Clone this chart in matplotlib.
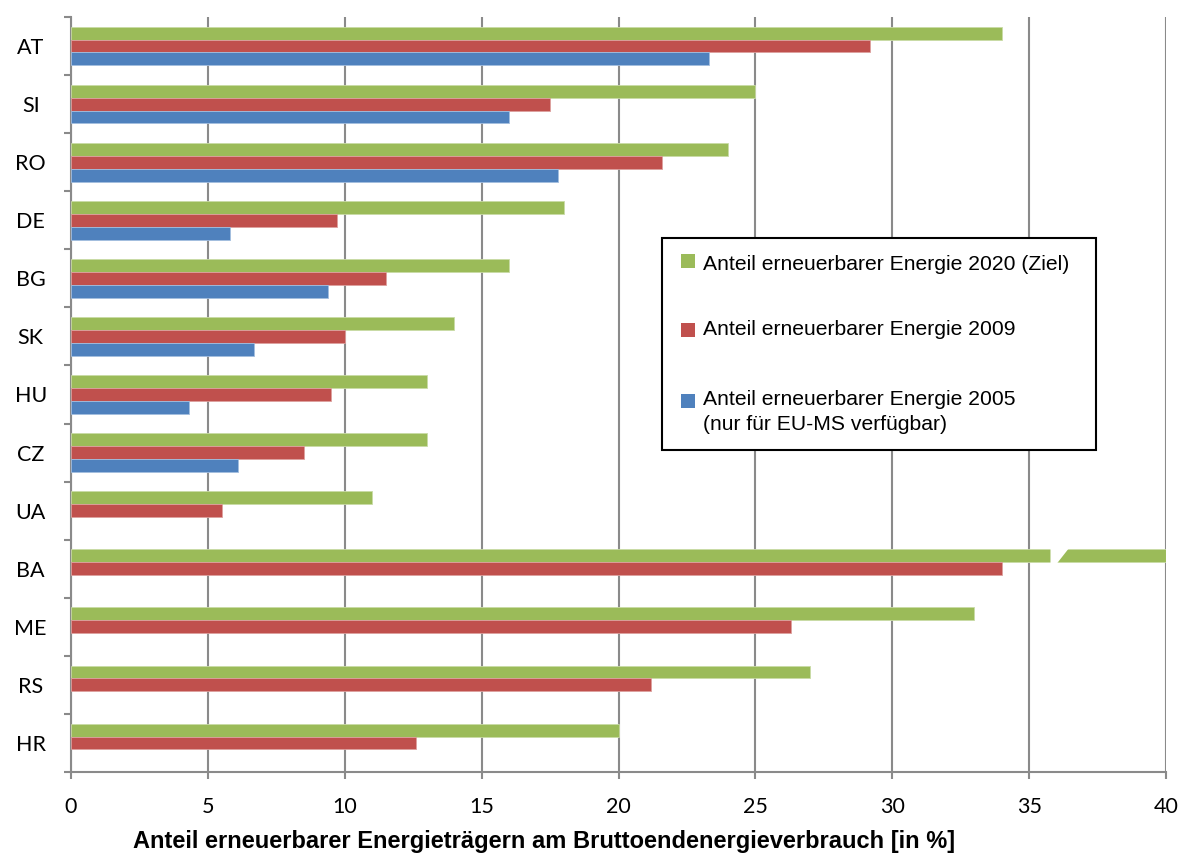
import numpy as np
import matplotlib.pyplot as plt
from matplotlib.patches import Rectangle, Polygon

# Anteil erneuerbarer Energie je Land (in %)
countries = ['AT', 'SI', 'RO', 'DE', 'BG', 'SK', 'HU', 'CZ', 'UA', 'BA', 'ME', 'RS', 'HR']
ziel_2020 = [34.0, 25.0, 24.0, 18.0, 16.0, 14.0, 13.0, 13.0, 11.0, 40.0, 33.0, 27.0, 20.0]
anteil_2009 = [29.2, 17.5, 21.6, 9.7, 11.5, 10.0, 9.5, 8.5, 5.5, 34.0, 26.3, 21.2, 12.6]
anteil_2005 = [23.3, 16.0, 17.8, 5.8, 9.4, 6.7, 4.3, 6.1, np.nan, np.nan, np.nan, np.nan, np.nan]

labels = [['Anteil erneuerbarer Energie 2020 (Ziel)'],
          ['Anteil erneuerbarer Energie 2009'],
          ['Anteil erneuerbarer Energie 2005', '(nur für EU-MS verfügbar)']]
colors = ['#9BBB59', '#C0504D', '#4F81BD']
edges = ['#C9DBA6', '#DDA09E', '#A3BEDF']

W, H = 1183, 857
fig = plt.figure(figsize=(W / 100, H / 100), dpi=100)
ax = fig.add_axes([71 / W, 1 - 772 / H, (1166 - 71) / W, (772 - 17) / H])

y = np.arange(len(countries))
h = 0.222
series = [ziel_2020, anteil_2009, anteil_2005]
for k, vals in enumerate(series):
    ax.barh(y + (k - 1) * h, vals, height=h, color=colors[k],
            edgecolor=edges[k], linewidth=0.6, zorder=3)

# axis break on the BA target bar
ba = countries.index('BA')
yt = ba - 1.5 * h - 0.03
yb = ba - 0.5 * h + 0.03
brk = Polygon([(35.78, yt), (36.47, yt), (36.0, yb), (35.78, yb)],
              closed=True, facecolor='white', edgecolor='none', zorder=4)
ax.add_patch(brk)

ax.set_xlim(0, 40)
ax.set_ylim(len(countries) - 0.5, -0.5)
ax.set_xticks(np.arange(0, 41, 5))
ax.set_yticks(y)
ax.set_yticklabels(countries)
ax.set_yticks(np.arange(-0.5, len(countries), 1), minor=True)

grid_c = '#8a8a8a'
ax.grid(axis='x', color=grid_c, linewidth=1.5, zorder=0)
for s in ['top', 'right']:
    ax.spines[s].set_visible(False)
for s in ['left', 'bottom']:
    ax.spines[s].set_color(grid_c)
    ax.spines[s].set_linewidth(1.5)

ax.tick_params(axis='y', which='major', length=0, pad=29)
ax.tick_params(axis='y', which='minor', length=5, width=1.5, color=grid_c)
ax.tick_params(axis='x', length=5, width=1.5, color=grid_c, pad=13)
for t in ax.get_yticklabels():
    t.set_horizontalalignment('center')
for t in ax.get_yticklabels() + ax.get_xticklabels():
    t.set_fontfamily('Lato')
    t.set_fontsize(15.5)
    t.set_color('#000000')

fig.text(544 / W, 1 - 848 / H,
         'Anteil erneuerbarer Energieträgern am Bruttoendenergieverbrauch [in %]',
         family='Liberation Sans', weight='bold', fontsize=17,
         ha='center', va='baseline')

# legend box
px = lambda x0, y0: (x0 / W, 1 - y0 / H)
box = Rectangle(px(662, 450), (1096 - 662) / W, (450 - 238) / H,
                transform=fig.transFigure, facecolor='white',
                edgecolor='black', linewidth=1.5, zorder=5)
fig.patches.append(box)
marker_top = [254, 323, 394]
baselines = [[270], [335], [405, 430]]
for k in range(3):
    sq = Rectangle(px(681, marker_top[k] + 14), 14 / W, 14 / H,
                   transform=fig.transFigure, facecolor=colors[k],
                   edgecolor='none', zorder=6)
    fig.patches.append(sq)
    for line, yb_px in zip(labels[k], baselines[k]):
        fig.text(703 / W, 1 - yb_px / H, line,
                 family='Liberation Sans', fontsize=15.2, va='baseline',
                 ha='left', zorder=7)

fig.savefig('out.png', dpi=100)
